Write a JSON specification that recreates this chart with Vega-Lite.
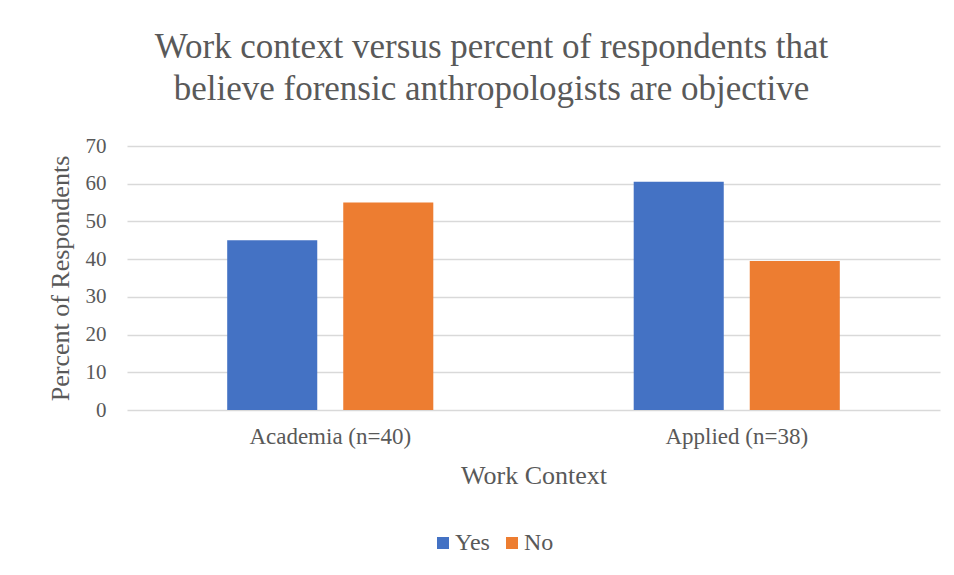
{
  "$schema": "https://vega.github.io/schema/vega-lite/v6.json",
  "width": 813,
  "height": 264,
  "autosize": {"type": "none"},
  "padding": {"left": 127, "top": 146, "right": 14, "bottom": 165},
  "background": "white",
  "config": {
    "view": {"stroke": null},
    "font": "Liberation Serif",
    "axis": {"labelFont": "Liberation Serif", "titleFont": "Liberation Serif"},
    "legend": {"labelFont": "Liberation Serif"}
  },
  "title": {
    "text": "Work context versus percent of respondents that",
    "subtitle": "believe forensic anthropologists are objective",
    "font": "Liberation Serif",
    "subtitleFont": "Liberation Serif",
    "fontSize": 35,
    "subtitleFontSize": 35,
    "fontWeight": "normal",
    "subtitleFontWeight": "normal",
    "color": "#595959",
    "subtitleColor": "#595959",
    "subtitlePadding": 7,
    "anchor": "middle",
    "frame": "group",
    "dx": -42,
    "offset": 28
  },
  "data": {
    "values": [
      {"context": "Academia (n=40)", "answer": "Yes", "percent": 45},
      {"context": "Academia (n=40)", "answer": "No", "percent": 55},
      {"context": "Applied (n=38)", "answer": "Yes", "percent": 60.5},
      {"context": "Applied (n=38)", "answer": "No", "percent": 39.5}
    ]
  },
  "mark": {"type": "bar"},
  "encoding": {
    "x": {
      "field": "context",
      "type": "nominal",
      "sort": ["Academia (n=40)", "Applied (n=38)"],
      "scale": {"paddingInner": 0.493, "paddingOuter": 0.2465},
      "axis": {
        "title": "Work Context",
        "labelAngle": 0,
        "ticks": false,
        "domain": false,
        "labelFontSize": 23,
        "labelColor": "#595959",
        "labelPadding": 15,
        "titleFontSize": 26,
        "titleFontWeight": "normal",
        "titleColor": "#595959",
        "titleY": 73,
        "titleBaseline": "alphabetic"
      }
    },
    "xOffset": {
      "field": "answer",
      "type": "nominal",
      "sort": ["Yes", "No"],
      "scale": {"paddingInner": 0.224, "paddingOuter": 0}
    },
    "y": {
      "field": "percent",
      "type": "quantitative",
      "scale": {"domain": [0, 70], "nice": false},
      "axis": {
        "title": "Percent of Respondents",
        "values": [0, 10, 20, 30, 40, 50, 60, 70],
        "ticks": false,
        "domain": false,
        "gridColor": "#D9D9D9",
        "gridWidth": 1.5,
        "labelFontSize": 21,
        "labelColor": "#595959",
        "labelPadding": 21,
        "titleFontSize": 26,
        "titleFontWeight": "normal",
        "titleColor": "#595959",
        "titleX": -59,
        "titleBaseline": "alphabetic"
      }
    },
    "color": {
      "field": "answer",
      "type": "nominal",
      "scale": {"domain": ["Yes", "No"], "range": ["#4472C4", "#ED7D31"]},
      "legend": {
        "title": null,
        "orient": "none",
        "direction": "horizontal",
        "legendX": 304,
        "legendY": 385,
        "symbolType": "square",
        "symbolSize": 144,
        "symbolStrokeWidth": 0,
        "labelFontSize": 24,
        "labelColor": "#595959",
        "labelOffset": 0,
        "columnPadding": 10
      }
    }
  }
}
